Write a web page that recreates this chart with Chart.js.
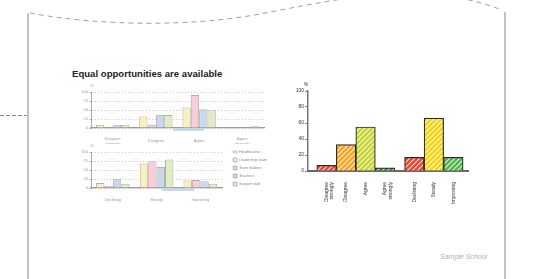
<!DOCTYPE html>
<html>
<head>
<meta charset="utf-8">
<script src="https://cdn.jsdelivr.net/npm/chart.js@4.4.1/dist/chart.umd.min.js"></script>
<style>
  html, body { margin: 0; padding: 0; background: #fff; }
  body { width: 560px; height: 279px; position: relative; overflow: hidden; font-family: "Liberation Sans", Arial, sans-serif; }
  canvas { position: absolute; }
  #frame { position: absolute; left: 0; top: 0; }
  #title { position: absolute; left: 72px; top: 69px; font: bold 9.6px/9px "Liberation Sans", Arial, sans-serif; color: #222; white-space: nowrap; }
  #school { position: absolute; left: 440px; top: 253px; font: italic 7px/7px "Liberation Sans", Arial, sans-serif; color: #b0b0b0; white-space: nowrap; }
</style>
</head>
<body>
<svg id="frame" width="560" height="279">
  <path d="M30 13 C 100 26, 190 27, 260 14 S 420 -22, 502 10" fill="none" stroke="#a0a0a0" stroke-width="1" stroke-dasharray="5 4"/>
  <line x1="0" y1="115.5" x2="27" y2="115.5" stroke="#888" stroke-width="1" stroke-dasharray="4 2"/>
  <rect x="27" y="13" width="2" height="270" fill="#c2c2c2"/>
  <rect x="504" y="12" width="2" height="270" fill="#c2c2c2"/>
</svg>
<div id="title">Equal opportunities are available</div>
<canvas id="agreeChart" width="210" height="64" style="left:60px;top:80px"></canvas>
<canvas id="trendChart" width="211" height="64" style="left:60px;top:140px"></canvas>
<canvas id="overallChart" width="200" height="128" style="left:280px;top:78px"></canvas>
<div id="school">Sample School</div>
<script>
Chart.defaults.font.family = '"Liberation Sans", Arial, sans-serif';

const agreeLabels = [["Disagree", "strongly"], "Disagree", "Agree", ["Agree", "strongly"]];
const trendLabels = ["Declining", "Steady", "Improving"];
const groupNames = ["Headteacher", "Leadership team", "Team leaders", "Teachers", "Support staff"];

// % answering in each category, by staff group
const leadershipAgree = [9, 32, 57, 2];
const teamLeadersAgree = [0, 9, 92, 0];
const teachersAgree = [9, 37, 52, 2];
const supportAgree = [9, 36, 49, 5];

const leadershipTrend = [14, 68, 21];
const teamLeadersTrend = [6, 74, 22];
const teachersTrend = [26, 58, 19];
const supportTrend = [12, 79, 12];

// headteacher marker, from/to in category units
const headAgreeSpan = [1.9, 2.62];
const headTrendSpan = [1.63, 2.35];

// whole school
const overallAgree = [7, 33, 55, 4];
const overallTrend = [17, 66, 17];

const smallTicks = [0, 25, 50, 75, 100];
const bigTicks = [0, 20, 40, 60, 80, 100];

const barFills = ["#fcefbf", "#f8cdd9", "#c9d8ee", "#e2ecc2"];
const barEdge = "#b4b2a6";
const headColor = "#c7d7e7";

const percentSign = {
  id: "percentSign",
  afterDraw(chart, args, opts) {
    const { ctx, chartArea } = chart;
    ctx.save();
    ctx.font = opts.size + 'px "Liberation Sans", Arial, sans-serif';
    ctx.fillStyle = opts.color;
    ctx.textAlign = "center";
    ctx.textBaseline = "middle";
    ctx.fillText("%", chartArea.left + opts.dx, chartArea.top - opts.dy);
    ctx.restore();
  },
};

function hatch(color) {
  const c = document.createElement("canvas");
  c.width = 5;
  c.height = 5;
  const g = c.getContext("2d");
  g.fillStyle = color;
  g.fillRect(0, 0, 5, 5);
  g.strokeStyle = "rgba(255,255,255,0.85)";
  g.lineWidth = 1.1;
  g.beginPath();
  g.moveTo(-1, 1); g.lineTo(1, -1);
  g.moveTo(0, 5); g.lineTo(5, 0);
  g.moveTo(4, 6); g.lineTo(6, 4);
  g.stroke();
  return g.createPattern(c, "repeat");
}

// categories sit at i + 0.5 on a linear axis so the headteacher span can share it
function smallChart(id, labels, series, headSpan, showLegend, labelPad) {
  const datasets = [{
    type: "line",
    label: groupNames[0],
    data: headSpan.map((x) => ({ x: x, y: -4 })),
    borderColor: headColor,
    backgroundColor: headColor,
    borderWidth: 3,
    pointRadius: 0,
    pointStyle: "line",
    clip: false,
  }];
  series.forEach((vals, i) => {
    datasets.push({
      label: groupNames[i + 1],
      data: vals.map((v, j) => ({ x: j + 0.5, y: v })),
      backgroundColor: barFills[i],
      borderColor: barEdge,
      borderWidth: 1,
      pointStyle: "rect",
      categoryPercentage: 0.77,
      barPercentage: 1,
    });
  });

  const scales = {
    x: {
      type: "linear",
      min: 0,
      max: labels.length,
      offset: false,
      afterBuildTicks: (s) => { s.ticks = labels.map((_, i) => ({ value: i + 0.5 })); },
      grid: { display: false },
      border: { color: "#9a9a9a", width: 1.2 },
      ticks: {
        font: { size: 4, lineHeight: 1.25 }, color: "#9a9a9a", padding: labelPad,
        crossAlign: "center", maxRotation: 0, autoSkip: false,
        callback: (v, i) => labels[i],
      },
      afterFit: (s) => { s.height = 16; },
    },
    y: {
      min: 0,
      max: 100,
      afterBuildTicks: (s) => { s.ticks = smallTicks.map((v) => ({ value: v })); },
      ticks: { font: { size: 4 }, color: "#9a9a9a", padding: 1 },
      grid: { color: "#bdbdbd", lineWidth: 0.8, tickLength: 2, tickColor: "#aaa", tickBorderDash: [] },
      border: { color: "#aaa", width: 1, dash: [1, 2] },
      afterFit: (s) => { s.width = 31; },
    },
  };
  let padding = { top: 12, right: 6 };
  if (showLegend) {
    padding = { top: 5.9, right: 0 };
    scales.xTop = {
      type: "linear", position: "top",
      grid: { display: false }, border: { display: false }, ticks: { display: false },
      afterFit: (s) => { s.height = 6.1; },
    };
    scales.yR = {
      type: "linear", position: "right",
      grid: { display: false }, border: { display: false }, ticks: { display: false },
      afterFit: (s) => { s.width = 6.8; },
    };
  }

  return new Chart(document.getElementById(id), {
    type: "bar",
    data: { datasets: datasets },
    plugins: [percentSign],
    options: {
      responsive: false,
      animation: false,
      layout: { padding: padding },
      scales: scales,
      plugins: {
        tooltip: { enabled: false },
        percentSign: { size: 4, color: "#9a9a9a", dx: 1, dy: 6 },
        legend: {
          display: showLegend,
          position: "right",
          align: "start",
          maxWidth: 42,
          labels: {
            usePointStyle: true,
            font: { size: 3.8 },
            color: "#8a8a8a",
            padding: 4.2,
          },
        },
      },
    },
  });
}

smallChart("agreeChart", agreeLabels,
  [leadershipAgree, teamLeadersAgree, teachersAgree, supportAgree], headAgreeSpan, false, 2.8);
smallChart("trendChart", trendLabels,
  [leadershipTrend, teamLeadersTrend, teachersTrend, supportTrend], headTrendSpan, true, 4);

// whole-school chart: two groups of bars with a half-slot gap between them
const overallLabels = agreeLabels.concat(trendLabels);
const overallValues = overallAgree.concat(overallTrend);
const overallX = overallLabels.map((_, i) => (i < agreeLabels.length ? i + 1 : i + 1.5));
const overallColors = ["#e8432c", "#f7a31c", "#c4d52c", "#2f8c3b", "#e8432c", "#f6d40d", "#4db748"];

new Chart(document.getElementById("overallChart"), {
  type: "bar",
  data: {
    datasets: [{
      label: "All",
      data: overallValues.map((v, i) => ({ x: overallX[i], y: v })),
      backgroundColor: overallColors.map(hatch),
      borderColor: "#2e2c20",
      borderWidth: 1.2,
      barPercentage: 1,
      categoryPercentage: 1,
    }],
  },
  plugins: [percentSign],
  options: {
    responsive: false,
    animation: false,
    layout: { padding: { top: 13, right: 12 } },
    scales: {
      x: {
        type: "linear",
        min: 0.05,
        max: 8.25,
        offset: false,
        afterBuildTicks: (s) => { s.ticks = overallX.map((v) => ({ value: v })); },
        grid: { display: false },
        border: { color: "#6a6a6a", width: 2 },
        ticks: {
          autoSkip: false, minRotation: 90, maxRotation: 90,
          font: { size: 5, lineHeight: 1.1 }, color: "#333", padding: 3,
          callback: (v, i) => overallLabels[i],
        },
        afterFit: (s) => { s.height = 35; },
      },
      y: {
        min: 0,
        max: 100,
        afterBuildTicks: (s) => { s.ticks = bigTicks.map((v) => ({ value: v })); },
        ticks: { font: { size: 5 }, color: "#333", padding: 1 },
        grid: { drawOnChartArea: false, tickLength: 3, color: "#777" },
        border: { color: "#777", width: 1.5 },
        afterFit: (s) => { s.width = 28; },
      },
    },
    plugins: {
      legend: { display: false },
      tooltip: { enabled: false },
      percentSign: { size: 5, color: "#333", dx: -2, dy: 6 },
    },
  },
});
</script>
</body>
</html>
